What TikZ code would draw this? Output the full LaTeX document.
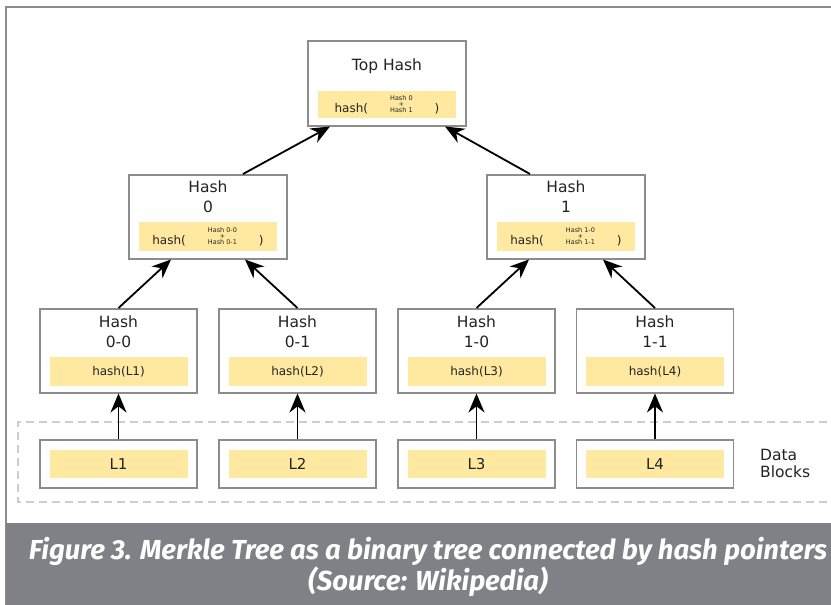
\documentclass[tikz,border=0pt]{standalone}
\usepackage{fontspec}
\setmainfont{DejaVu Sans}
\newfontfamily\capfont{Fira Sans}
\usetikzlibrary{arrows.meta,positioning}
\definecolor{hashyellow}{RGB}{255,233,160}
\definecolor{boxgray}{RGB}{140,140,140}
\definecolor{dashgray}{RGB}{205,205,205}
\definecolor{capgray}{RGB}{128,129,134}
\definecolor{txt}{RGB}{35,35,35}

\begin{document}
\begin{tikzpicture}[x=1pt,y=-1pt,
hbox/.style={draw=boxgray, line width=1.5pt, fill=white, anchor=north,
  minimum width=157pt, minimum height=84pt, inner sep=0pt},
dbox/.style={draw=boxgray, line width=1.5pt, fill=white,
  minimum width=157pt, minimum height=48pt, inner sep=0pt},
yel/.style={fill=hashyellow, minimum width=138pt, minimum height=29pt,
  inner sep=0pt, font=\fontsize{12}{14}\selectfont, text=txt},
title/.style={anchor=north, inner sep=0pt, align=center,
  font=\fontsize{15.5}{20}\selectfont, text=txt},
ptr/.style={-{Stealth[length=19pt,width=16pt]}, line width=1.8pt}]

\useasboundingbox (0,0) rectangle (831,605);
\fill[white] (0,0) rectangle (831,605);
\draw[boxgray, line width=2pt] (831,7) -- (6,7) -- (6,605);

% data blocks
\draw[dashgray, line width=1.5pt, dash pattern=on 8pt off 5pt]
  (840,422) -- (18,422) -- (18,502) -- (840,502);
\node[anchor=west, align=left, inner sep=0pt, text=txt,
  font=\fontsize{15.5}{17}\selectfont] (blocks) at (760,463) {Data\\Blocks};

\foreach \i/\x in {1/118.5, 2/297.5, 3/476.5, 4/655}{
  \node[dbox] (d\i) at (\x,464) {};
  \node[yel, minimum height=28pt, font=\fontsize{15}{17}\selectfont] (dy\i) at (d\i) {L\i};
}

% leaf hashes
\node[hbox] (h00) at (118.5,308) {};
\node[hbox] (h01) at (297.5,308) {};
\node[hbox] (h10) at (476.5,308) {};
\node[hbox] (h11) at (655,308) {};
\foreach \n/\t/\l in {h00/0-0/1, h01/0-1/2, h10/1-0/3, h11/1-1/4}{
  \node[title, below=8pt of \n.north] (\n t) {Hash\\\t};
  \node[yel, above=7pt of \n.south] (\n y) {hash(L\l)};
}

% inner hashes
\node[hbox, minimum width=158pt] (h0) at (208,174) {};
\node[hbox, minimum width=158pt] (h1) at (566,174) {};
\foreach \n/\t in {h0/0, h1/1}{
  \node[title, below=7pt of \n.north] (\n t) {Hash\\\t};
  \node[yel, above=8pt of \n.south] (\n y) {hash(\hspace{22pt}%
    {\fontsize{6.5}{5}\selectfont\shortstack{Hash \t-0\\[-2pt]+\\[-2pt]Hash \t-1}}%
    \hspace{22pt})};
}

% root
\node[hbox, minimum width=158pt, minimum height=85pt] (top) at (387,40) {};
\node[title, below=19pt of top.north] (topt) {Top Hash};
\node[yel, minimum height=27pt, above=8pt of top.south] (topy) {hash(\hspace{22pt}%
  {\fontsize{6.5}{5}\selectfont\shortstack{Hash 0\\[-2pt]+\\[-2pt]Hash 1}}%
  \hspace{22pt})};

% pointers
\foreach \i/\n in {1/h00, 2/h01, 3/h10, 4/h11}
  \draw[ptr] (d\i.north) -- (\n.south);
\draw[ptr] (h00.north) -- ([xshift=-37pt]h0.south);
\draw[ptr] (h01.north) -- ([xshift=37pt]h0.south);
\draw[ptr] (h10.north) -- ([xshift=-37pt]h1.south);
\draw[ptr] (h11.north) -- ([xshift=37pt]h1.south);
\draw[ptr] ([xshift=35pt]h0.north) -- ([xshift=-57pt]top.south);
\draw[ptr] ([xshift=-36pt]h1.north) -- ([xshift=58pt]top.south);

% caption
\fill[capgray] (6,523) rectangle (831,605);
\node[align=center, text=white, inner sep=0pt,
  font=\capfont\bfseries\itshape\fontsize{27.5}{31}\selectfont] (caption) at (428,567)
  {Figure 3. Merkle Tree as a binary tree connected by hash pointers\\(Source: Wikipedia)};

\end{tikzpicture}
\end{document}
